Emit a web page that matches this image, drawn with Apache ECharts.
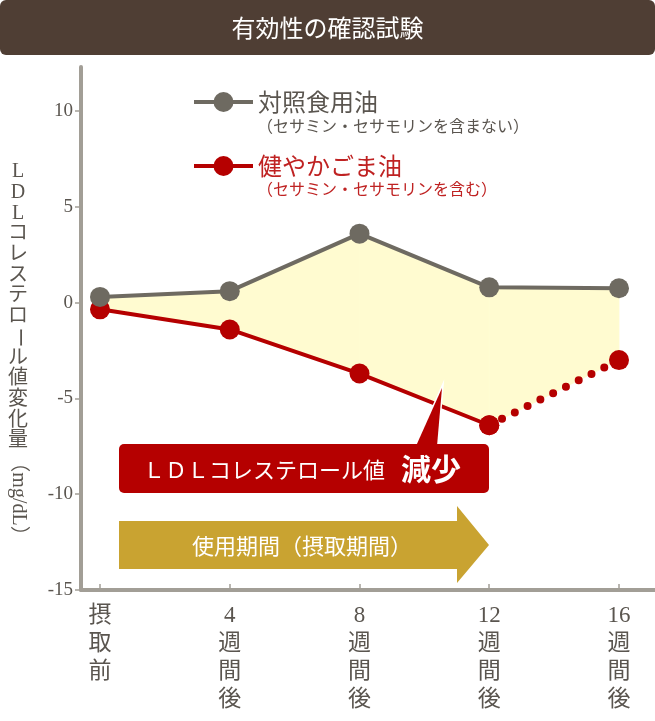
<!DOCTYPE html>
<html>
<head>
<meta charset="utf-8">
<title>有効性の確認試験</title>
<script src="https://cdn.jsdelivr.net/npm/echarts@6/dist/echarts.min.js"></script>
<style>
    html, body { margin: 0; padding: 0; background: #fff; }
    #chart { width: 655px; height: 721px; }
</style>
</head>
<body>
<div id="chart"></div>
<script>
// データ
var weeks = [0, 4, 8, 12, 16];
var weekLabels = ['摂取前', '4週間後', '8週間後', '12週間後', '16週間後'];
var controlName = '対照食用油';
var controlNote = '（セサミン・セサモリンを含まない）';
var controlValues = [0.3, 0.6, 3.6, 0.8, 0.75];
var sesameName = '健やかごま油';
var sesameNote = '（セサミン・セサモリンを含む）';
var sesameValues = [-0.35, -1.4, -3.7, -6.4, -3.0];
var yTicks = [-15, -10, -5, 0, 5, 10];

var serif = "'Liberation Serif', 'Noto Sans CJK JP', serif";
var jp = "'Noto Sans CJK JP', sans-serif";
var grayColor = '#6e6a61';
var redColor = '#b50000';
var fillColor = '#fffbd0';
var axisColor = '#a29e96';
var textGray = '#5a554f';
var gold = '#c9a331';

/**
 * weeks[from..to) を [x, y] の組にする
 */
function pairs(values, from, to) {
    var out = [];
    for (var i = from; i < to; i++) {
        out.push([weeks[i], values[i]]);
    }
    return out;
}

// 2本の線の間を塗る用 [週, 対照, ごま油]
var gapData = weeks.map(function (w, i) {
    return [w, controlValues[i], sesameValues[i]];
});

function renderGap(params, api) {
    var i = params.dataIndex;
    if (i >= gapData.length - 1) {
        return null;
    }
    var a = gapData[i], b = gapData[i + 1];
    return {
        type: 'polygon',
        shape: {
            points: [
                api.coord([a[0], a[1]]),
                api.coord([b[0], b[1]]),
                api.coord([b[0], b[2]]),
                api.coord([a[0], a[2]])
            ]
        },
        style: {fill: fillColor, stroke: fillColor, lineWidth: 0.8}
    };
}

// 縦書きのラベル
function verticalLabel(v) {
    var s = weekLabels[weeks.indexOf(v)];
    var m = s.match(/^(\d+)(.*)$/);
    var parts = m ? [m[1]].concat(m[2].split('')) : s.split('');
    return parts.join('\n');
}

// 縦軸名（縦書き）
var yNameElems = 'LDLコレステロール値変化量'.split('').map(function (c, i) {
    return {
        type: 'text',
        x: 18,
        y: 172 + i * 20.7,
        rotation: c === 'ー' ? -Math.PI / 2 : 0,
        style: {text: c, align: 'center', verticalAlign: 'middle', fill: textGray, font: '20px ' + serif}
    };
});
yNameElems.push({
    type: 'text',
    x: 18,
    y: 499,
    rotation: -Math.PI / 2,
    style: {text: '（mg/dL）', align: 'center', verticalAlign: 'middle', fill: textGray, font: '20px ' + serif}
});

var boxShape = {x: 119, y: 444, width: 370, height: 49, r: 5};
var pointerShape = {points: [[416, 446], [442, 388], [437, 446]]};

var option = {
    animation: false,
    backgroundColor: '#fff',
    grid: {left: 81, right: 0, top: 67, bottom: 131},
    legend: [
        {
            data: [controlName],
            left: 187,
            top: 85,
            itemWidth: 59,
            itemHeight: 25,
            lineStyle: {width: 4},
            textStyle: {color: textGray, fontSize: 24, fontFamily: jp}
        },
        {
            data: [sesameName],
            left: 187,
            top: 149,
            itemWidth: 59,
            itemHeight: 25,
            lineStyle: {width: 4},
            textStyle: {color: '#bf2222', fontSize: 24, fontFamily: jp}
        }
    ],
    xAxis: {
        type: 'value',
        min: -0.586,
        max: 17.11,
        splitLine: {show: false},
        axisLine: {show: true, onZero: false, lineStyle: {color: axisColor, width: 4}},
        axisTick: {show: true, inside: true, length: 6, customValues: weeks, lineStyle: {color: axisColor, width: 1.5}},
        axisLabel: {
            customValues: weeks,
            formatter: verticalLabel,
            margin: 12,
            verticalAlign: 'top',
            color: textGray,
            fontSize: 23,
            lineHeight: 28,
            fontFamily: serif
        }
    },
    yAxis: {
        type: 'value',
        min: -15,
        max: 12.3,
        splitLine: {show: false},
        axisLine: {show: true, onZero: false, lineStyle: {color: axisColor, width: 4}},
        axisTick: {show: true, length: 6, customValues: yTicks, lineStyle: {color: axisColor, width: 1.5}},
        axisLabel: {customValues: yTicks, margin: 8, color: textGray, fontSize: 19, fontFamily: serif}
    },
    series: [
        {
            name: 'gap',
            type: 'custom',
            renderItem: renderGap,
            data: gapData,
            encode: {x: 0, y: [1, 2]},
            z: 1
        },
        {
            name: sesameName,
            type: 'line',
            data: pairs(sesameValues, 0, 4),
            symbol: 'circle',
            symbolSize: 20,
            itemStyle: {color: redColor},
            lineStyle: {color: redColor, width: 4},
            z: 3
        },
        {
            name: sesameName,
            type: 'line',
            data: pairs(sesameValues, 3, 5),
            symbol: 'circle',
            symbolSize: 20,
            itemStyle: {color: redColor},
            lineStyle: {color: redColor, width: 8, type: [0, 14.3], cap: 'round'},
            z: 3
        },
        {
            name: controlName,
            type: 'line',
            data: pairs(controlValues, 0, 5),
            symbol: 'circle',
            symbolSize: 20,
            itemStyle: {color: grayColor},
            lineStyle: {color: grayColor, width: 4},
            z: 4
        }
    ],
    graphic: [
        // タイトル
        {
            type: 'rect',
            shape: {x: 0, y: 0, width: 655, height: 55, r: 6},
            style: {fill: '#4f3e34'}
        },
        {
            type: 'text',
            x: 327.5,
            y: 28,
            style: {text: '有効性の確認試験', align: 'center', verticalAlign: 'middle', fill: '#fff', font: '24px ' + jp}
        },
        // 凡例の注記
        {
            type: 'text',
            x: 257,
            y: 126,
            style: {text: controlNote, verticalAlign: 'middle', fill: textGray, font: '16px ' + jp}
        },
        {
            type: 'text',
            x: 257,
            y: 189,
            style: {text: sesameNote, verticalAlign: 'middle', fill: '#bf2222', font: '16px ' + jp}
        },
        {type: 'group', children: yNameElems},
        // 減少の吹き出し
        {type: 'rect', z: 100, shape: boxShape, style: {fill: redColor, stroke: '#fff', lineWidth: 3}},
        {type: 'polygon', z: 100, shape: pointerShape, style: {fill: redColor, stroke: '#fff', lineWidth: 3}},
        {type: 'rect', z: 101, shape: boxShape, style: {fill: redColor}},
        {type: 'polygon', z: 101, shape: pointerShape, style: {fill: redColor}},
        {
            type: 'text',
            z: 102,
            x: 143,
            y: 470,
            style: {text: 'ＬＤＬコレステロール値', verticalAlign: 'middle', fill: '#fff', font: '22px ' + jp}
        },
        {
            type: 'text',
            z: 102,
            x: 401,
            y: 469,
            style: {text: '減少', verticalAlign: 'middle', fill: '#fff', font: 'bold 30px ' + jp}
        },
        // 使用期間の矢印
        {
            type: 'polygon',
            z: 100,
            shape: {points: [[119, 521], [457, 521], [457, 506], [489, 545], [457, 583], [457, 569], [119, 569]]},
            style: {fill: gold}
        },
        {
            type: 'text',
            z: 102,
            x: 302,
            y: 546,
            style: {text: '使用期間（摂取期間）', align: 'center', verticalAlign: 'middle', fill: '#fff', font: '22px ' + jp}
        }
    ]
};

var chart = echarts.init(document.getElementById('chart'));
chart.setOption(option);
</script>
</body>
</html>
